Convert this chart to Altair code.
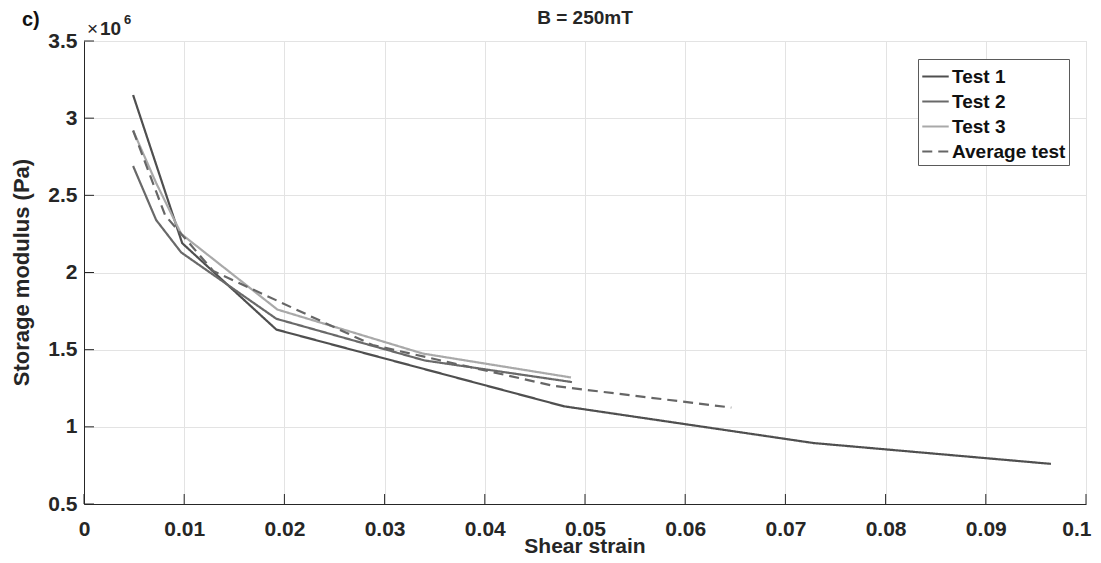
import altair as alt
import pandas as pd

# ---- data ----
series_names = ["Test 1", "Test 2", "Test 3", "Average test"]

strain_1 = [0.0049, 0.0098, 0.0192, 0.0479, 0.0728, 0.0965]
modulus_1 = [3.15e6, 2.19e6, 1.63e6, 1.133e6, 0.895e6, 0.760e6]

strain_2 = [0.0049, 0.0072, 0.0097, 0.0192, 0.0340, 0.0487]
modulus_2 = [2.69e6, 2.34e6, 2.13e6, 1.70e6, 1.43e6, 1.29e6]

strain_3 = [0.0049, 0.0072, 0.0097, 0.0193, 0.0338, 0.0486]
modulus_3 = [2.92e6, 2.58e6, 2.25e6, 1.76e6, 1.475e6, 1.32e6]

strain_avg = [0.0049, 0.0081, 0.0129, 0.0288, 0.0469, 0.0646]
modulus_avg = [2.92e6, 2.37e6, 2.01e6, 1.53e6, 1.265e6, 1.125e6]

x_ticks = [0, 0.01, 0.02, 0.03, 0.04, 0.05, 0.06, 0.07, 0.08, 0.09, 0.1]
y_ticks = [0.5e6, 1.0e6, 1.5e6, 2.0e6, 2.5e6, 3.0e6, 3.5e6]

series_colors = ["#4f4f4f", "#696969", "#a9a9a9", "#666666"]
series_dash = [[1, 0], [1, 0], [1, 0], [10, 6]]

rows = []
for name, xs, ys in zip(series_names,
                        [strain_1, strain_2, strain_3, strain_avg],
                        [modulus_1, modulus_2, modulus_3, modulus_avg]):
    for i, (a, b) in enumerate(zip(xs, ys)):
        rows.append({"series": name, "strain": a, "modulus": b, "idx": i})
df = pd.DataFrame(rows)

FONT = "Liberation Sans"
AX = "#262626"
W, H = 1002, 463

xscale = alt.Scale(domain=[0, 0.1], nice=False, zero=False)
yscale = alt.Scale(domain=[0.5e6, 3.5e6], nice=False, zero=False)

legend_cfg = dict(title=None, orient="none", legendX=834, legendY=18,
                  symbolType="stroke", symbolSize=700, symbolStrokeWidth=2.2,
                  labelFont=FONT, labelFontSize=19, labelFontWeight="bold",
                  labelColor="#111111", labelOffset=2,
                  fillColor="white", strokeColor="#5a5a5a",
                  padding=3, rowPadding=0)

lines = alt.Chart(df).mark_line(strokeWidth=2.2, clip=True).encode(
    x=alt.X("strain:Q", scale=xscale,
            axis=alt.Axis(values=x_ticks, format="~g", title=None,
                          grid=True, gridColor="#e3e3e3", tickSize=0,
                          labelPadding=14,
                          labelFont=FONT, labelFontSize=21, labelFontWeight="bold",
                          labelColor=AX, domainColor=AX, labelFlush=False,
                          labelAlign={"condition": {"test": "datum.value >= 0.1", "value": "right"},
                                      "value": "center"},
                          labelOffset={"condition": {"test": "datum.value >= 0.1", "value": 5},
                                       "value": 0})),
    y=alt.Y("modulus:Q", scale=yscale,
            axis=alt.Axis(values=y_ticks, labelExpr="format(datum.value/1e6, '~g')",
                          title=None,
                          grid=True, gridColor="#e3e3e3", tickSize=0,
                          labelPadding=7,
                          labelFont=FONT, labelFontSize=21, labelFontWeight="bold",
                          labelColor=AX, domainColor=AX, labelFlush=False)),
    color=alt.Color("series:N", scale=alt.Scale(domain=series_names, range=series_colors),
                    legend=alt.Legend(**legend_cfg)),
    strokeDash=alt.StrokeDash("series:N",
                              scale=alt.Scale(domain=series_names, range=series_dash),
                              legend=alt.Legend(**legend_cfg)),
    order="idx:Q",
)

xt = alt.Chart(pd.DataFrame({"v": x_ticks})).mark_rule(color=AX, strokeWidth=1).encode(
    x=alt.X("v:Q", scale=xscale), y=alt.value(H - 10), y2=alt.value(H))
yt = alt.Chart(pd.DataFrame({"v": y_ticks})).mark_rule(color=AX, strokeWidth=1).encode(
    y=alt.Y("v:Q", scale=yscale), x=alt.value(0), x2=alt.value(10))

def txt(s, x, y, size, align="left", weight="bold", color=AX, angle=0, baseline="alphabetic"):
    return alt.Chart(pd.DataFrame({"t": [s]})).mark_text(
        font=FONT, fontSize=size, fontWeight=weight, align=align, baseline=baseline,
        angle=angle, color=color).encode(x=alt.value(x), y=alt.value(y), text="t:N")

title = txt("B = 250mT", W / 2, -17, 19, align="center")
panel = txt("c)", -62, -15, 20, color="#111111")
times = txt("×", 3, -6, 19, weight="normal")
ten = txt("10", 16, -6, 19)
expo = txt("6", 40, -17, 13)
xtitle = txt("Shear strain", W / 2, H + 49, 21, align="center")
ytitle = txt("Storage modulus (Pa)", -62, H / 2, 22, align="center", angle=270, baseline="middle")

chart = alt.layer(lines, xt, yt, title, panel, times, ten, expo, xtitle, ytitle).properties(
    width=W, height=H,
    autosize=alt.AutoSizeParams(type="none"),
    padding={"left": 76, "top": 33, "right": 7, "bottom": 51},
).configure_view(stroke=None).configure(background="white")

chart.save("out.html", embed_options={"renderer": "svg", "actions": False})
